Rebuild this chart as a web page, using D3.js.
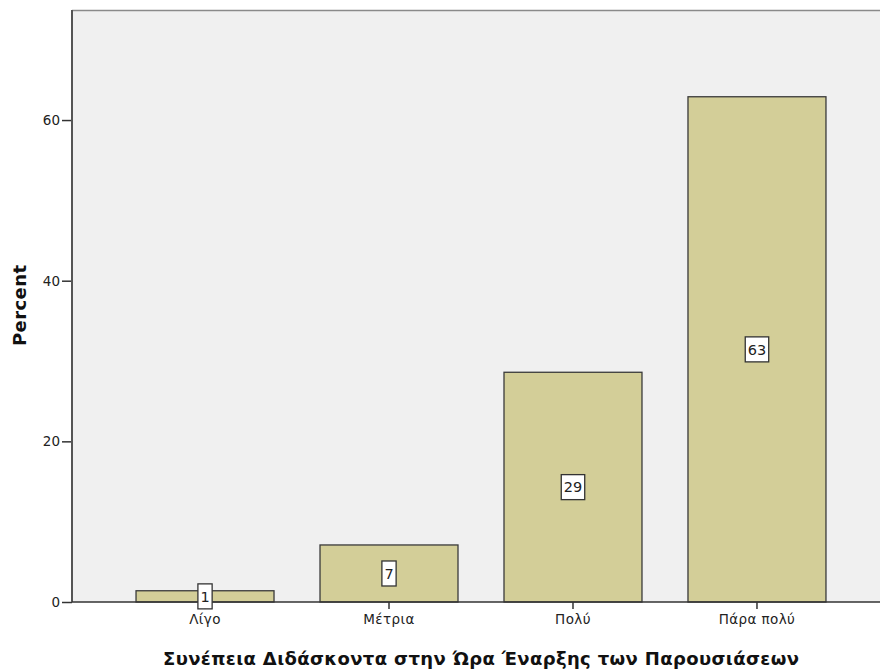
<!DOCTYPE html>
<html>
<head>
<meta charset="utf-8">
<script src="https://cdn.jsdelivr.net/npm/d3@7"></script>
<style>
  html, body { margin: 0; padding: 0; background: #ffffff; }
  svg { display: block; }
</style>
</head>
<body>
<svg id="chart" width="880" height="671"></svg>
<script>
const categories = ["Λίγο", "Μέτρια", "Πολύ", "Πάρα πολύ"];
const percents = [1.4, 7.1, 28.6, 62.9];
const barLabels = ["1", "7", "29", "63"];
const yTicks = [0, 20, 40, 60];
const xTitle = "Συνέπεια Διδάσκοντα στην Ώρα Έναρξης των Παρουσιάσεων";
const yTitle = "Percent";

const svg = d3.select("#chart");
const W = 880, H = 671;
const plot = { left: 72, top: 10, right: 890, bottom: 602 };

const x = d3.scaleBand()
  .domain(categories)
  .range([plot.left, plot.right])
  .paddingInner(0.25)
  .paddingOuter(0.348);

const y = d3.scaleLinear()
  .domain([0, 73.7])
  .range([plot.bottom, plot.top]);

const font = "'DejaVu Sans', Verdana, sans-serif";

// plot background
svg.append("rect")
  .attr("x", plot.left).attr("y", plot.top)
  .attr("width", W - plot.left).attr("height", plot.bottom - plot.top)
  .attr("fill", "#f0f0f0");

// top border
svg.append("line")
  .attr("x1", plot.left).attr("x2", W)
  .attr("y1", plot.top + 0.5).attr("y2", plot.top + 0.5)
  .attr("stroke", "#8a8a8a").attr("stroke-width", 1.5);

// bars
const data = categories.map((c, i) => ({ c, v: percents[i], l: barLabels[i] }));
svg.append("g").selectAll("rect")
  .data(data).join("rect")
  .attr("x", d => x(d.c))
  .attr("y", d => y(d.v))
  .attr("width", x.bandwidth())
  .attr("height", d => y(0) - y(d.v))
  .attr("fill", "#d3ce98")
  .attr("stroke", "#3a3a3a")
  .attr("stroke-width", 1.3);

// y axis
const yAxis = d3.axisLeft(y).tickValues(yTicks).tickSize(10).tickPadding(2).tickFormat(d3.format("d"));
const gy = svg.append("g").attr("transform", `translate(${plot.left},0)`).call(yAxis);
gy.select(".domain").remove();
gy.selectAll(".tick line").attr("stroke", "#333").attr("stroke-width", 1.5);
gy.selectAll(".tick text").attr("font-family", font).attr("font-size", 13.5)
  .attr("fill", "#222");
svg.append("line")
  .attr("x1", plot.left).attr("x2", plot.left)
  .attr("y1", plot.top).attr("y2", plot.bottom)
  .attr("stroke", "#555").attr("stroke-width", 2);

// x axis
const xAxis = d3.axisBottom(x).tickSize(7).tickPadding(5);
const gx = svg.append("g").attr("transform", `translate(0,${plot.bottom})`).call(xAxis);
gx.select(".domain").remove();
gx.selectAll(".tick line").attr("stroke", "#333").attr("stroke-width", 1.5);
gx.selectAll(".tick text").attr("font-family", font).attr("font-size", 13.5)
  .attr("letter-spacing", "0.4px").attr("fill", "#222");
svg.append("line")
  .attr("x1", plot.left).attr("x2", W)
  .attr("y1", plot.bottom).attr("y2", plot.bottom)
  .attr("stroke", "#333").attr("stroke-width", 1.5);

// value labels
const lab = svg.append("g").selectAll("g")
  .data(data).join("g")
  .attr("transform", d => `translate(${x(d.c) + x.bandwidth() / 2},${y(d.v / 2)})`);
lab.append("text")
  .attr("text-anchor", "middle")
  .attr("dy", "0.36em")
  .attr("font-family", font)
  .attr("font-size", 14.5)
  .attr("fill", "#222")
  .text(d => d.l)
  .each(function () {
    const b = this.getBBox();
    d3.select(this.parentNode).insert("rect", "text")
      .attr("x", b.x - 2.5).attr("y", -12.5)
      .attr("width", b.width + 5).attr("height", 25)
      .attr("fill", "#ffffff").attr("stroke", "#333").attr("stroke-width", 1.3);
  });

// axis titles
svg.append("text")
  .attr("x", 481).attr("y", 665)
  .attr("text-anchor", "middle")
  .attr("font-family", font).attr("font-size", 18).attr("font-weight", "bold")
  .attr("textLength", 636).attr("lengthAdjust", "spacing")
  .attr("fill", "#111")
  .text(xTitle);

svg.append("text")
  .attr("transform", `translate(26,${(265 + 346) / 2}) rotate(-90)`)
  .attr("text-anchor", "middle")
  .attr("font-family", font).attr("font-size", 18).attr("font-weight", "bold")
  .attr("textLength", 81).attr("lengthAdjust", "spacing")
  .attr("fill", "#111")
  .text(yTitle);
</script>
</body>
</html>
